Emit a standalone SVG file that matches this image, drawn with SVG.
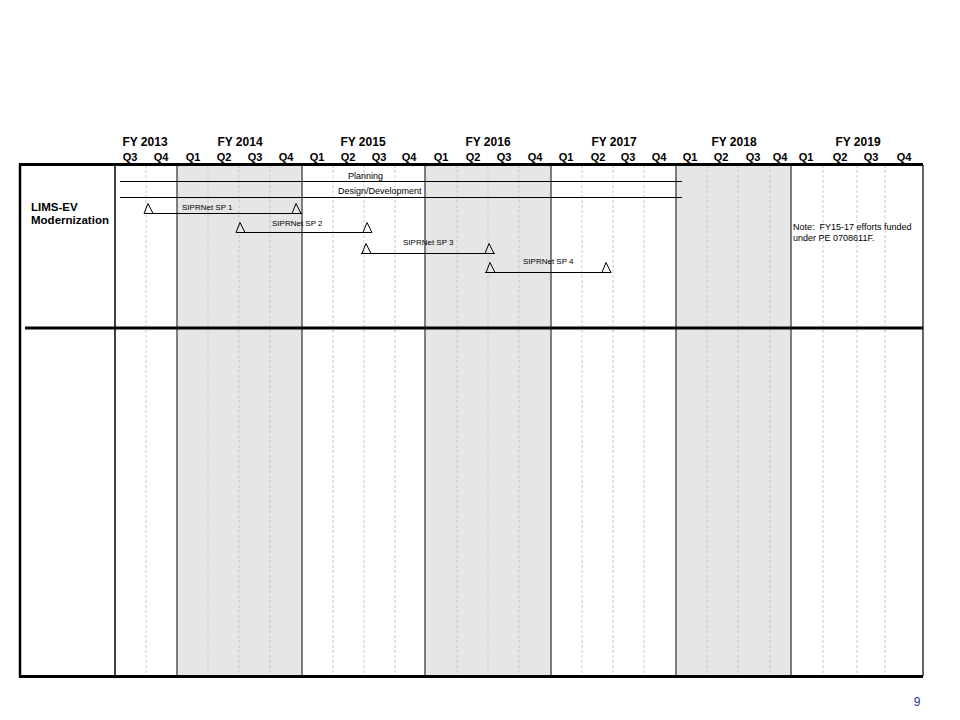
<svg xmlns="http://www.w3.org/2000/svg" width="960" height="720" viewBox="0 0 960 720">
<style>
.fy{font-family:"Liberation Sans",Arial,sans-serif;font-weight:bold;font-size:12px;fill:#000;text-anchor:middle}
.q{font-family:"Liberation Sans",Arial,sans-serif;font-weight:bold;font-size:11px;fill:#000;text-anchor:middle}
.sm{font-family:"Liberation Sans",Arial,sans-serif;font-size:8px;fill:#000}
.ph{font-family:"Liberation Sans",Arial,sans-serif;font-size:9px;fill:#000}
.nt{font-family:"Liberation Sans",Arial,sans-serif;font-size:9px;fill:#000}
.lbl{font-family:"Liberation Sans",Arial,sans-serif;font-weight:bold;font-size:11.5px;fill:#000}
.shade{fill:#e6e6e6}
.dash{stroke:#c8c8c8;stroke-width:1;stroke-dasharray:3,2;fill:none}
.yr{stroke:#555;stroke-width:1.5;fill:none}
.bar{stroke:#000;stroke-width:1;fill:none}
.tri{stroke:#000;stroke-width:1;fill:none}
</style>
<rect width="960" height="720" fill="#fff"/>
<g id="shading">
<rect class="shade" x="177" y="165" width="125" height="511"/>
<rect class="shade" x="425" y="165" width="126" height="511"/>
<rect class="shade" x="676" y="165" width="115" height="511"/>
</g>
<g id="grid">
<path class="dash" d="M146 165V676M208 165V676M239 165V676M270 165V676M333 165V676M364 165V676M395 165V676M457 165V676M488 165V676M519 165V676M582 165V676M613 165V676M644 165V676M707 165V676M738 165V676M770 165V676M823 165V676M857 165V676M885 165V676"/>
<path class="yr" d="M177 165V676M302 165V676M425 165V676M551 165V676M676 165V676M791 165V676"/>
<path d="M115 165V676" stroke="#000" stroke-width="1.5"/>
<path d="M923 165V676" stroke="#666" stroke-width="2"/>
<path d="M20 164V677" stroke="#000" stroke-width="2.5"/>
<path d="M19 164.5H923" stroke="#000" stroke-width="3"/>
<path d="M25 328H923" stroke="#000" stroke-width="3"/>
<path d="M19 676.5H923" stroke="#000" stroke-width="3"/>
</g>
<g id="header">
<text class="fy" x="145" y="146">FY 2013</text>
<text class="fy" x="240" y="146">FY 2014</text>
<text class="fy" x="363" y="146">FY 2015</text>
<text class="fy" x="488" y="146">FY 2016</text>
<text class="fy" x="614" y="146">FY 2017</text>
<text class="fy" x="734" y="146">FY 2018</text>
<text class="fy" x="858" y="146">FY 2019</text>
<text class="q" x="130" y="161">Q3</text>
<text class="q" x="161" y="161">Q4</text>
<text class="q" x="193" y="161">Q1</text>
<text class="q" x="224" y="161">Q2</text>
<text class="q" x="255" y="161">Q3</text>
<text class="q" x="286" y="161">Q4</text>
<text class="q" x="317" y="161">Q1</text>
<text class="q" x="348" y="161">Q2</text>
<text class="q" x="379" y="161">Q3</text>
<text class="q" x="409" y="161">Q4</text>
<text class="q" x="441" y="161">Q1</text>
<text class="q" x="473" y="161">Q2</text>
<text class="q" x="504" y="161">Q3</text>
<text class="q" x="535" y="161">Q4</text>
<text class="q" x="566" y="161">Q1</text>
<text class="q" x="598" y="161">Q2</text>
<text class="q" x="628" y="161">Q3</text>
<text class="q" x="659" y="161">Q4</text>
<text class="q" x="690" y="161">Q1</text>
<text class="q" x="721" y="161">Q2</text>
<text class="q" x="753" y="161">Q3</text>
<text class="q" x="780" y="161">Q4</text>
<text class="q" x="806" y="161">Q1</text>
<text class="q" x="840" y="161">Q2</text>
<text class="q" x="871" y="161">Q3</text>
<text class="q" x="904" y="161">Q4</text>
</g>
<g id="row-label">
<text class="lbl" x="31" y="211">LIMS-EV</text>
<text class="lbl" x="31" y="224">Modernization</text>
</g>
<g id="planning">
<path class="bar" d="M120 181.5H682"/>
<text class="ph" x="348" y="179">Planning</text>
</g>
<g id="design">
<path class="bar" d="M120 197.5H682"/>
<text class="ph" x="338" y="194">Design/Development</text>
</g>
<g id="sp1">
<path class="bar" d="M144 213.5H302"/>
<path class="tri" d="M148 203.5L144 213.5H153Z"/>
<path class="tri" d="M296 203.5L292 213.5H301Z"/>
<text class="sm" x="182" y="210">SIPRNet SP 1</text>
</g>
<g id="sp2">
<path class="bar" d="M236 232.5H372"/>
<path class="tri" d="M240 222.5L236 232.5H245Z"/>
<path class="tri" d="M367 222.5L363 232.5H372Z"/>
<text class="sm" x="272" y="226">SIPRNet SP 2</text>
</g>
<g id="sp3">
<path class="bar" d="M361 253.5H495"/>
<path class="tri" d="M366 243.5L362 253.5H371Z"/>
<path class="tri" d="M489 243.5L485 253.5H494Z"/>
<text class="sm" x="403" y="245">SIPRNet SP 3</text>
</g>
<g id="sp4">
<path class="bar" d="M485 272.5H611"/>
<path class="tri" d="M490 262.5L486 272.5H495Z"/>
<path class="tri" d="M606 262.5L602 272.5H611Z"/>
<text class="sm" x="523" y="264">SIPRNet SP 4</text>
</g>
<g id="note">
<text class="nt" x="793" y="230" xml:space="preserve">Note:  FY15-17 efforts funded</text>
<text class="nt" x="793" y="241">under PE 0708611F.</text>
</g>
<text x="917" y="706" font-family="Liberation Sans,Arial,sans-serif" font-size="12" fill="#2e3192" text-anchor="middle">9</text>
</svg>
